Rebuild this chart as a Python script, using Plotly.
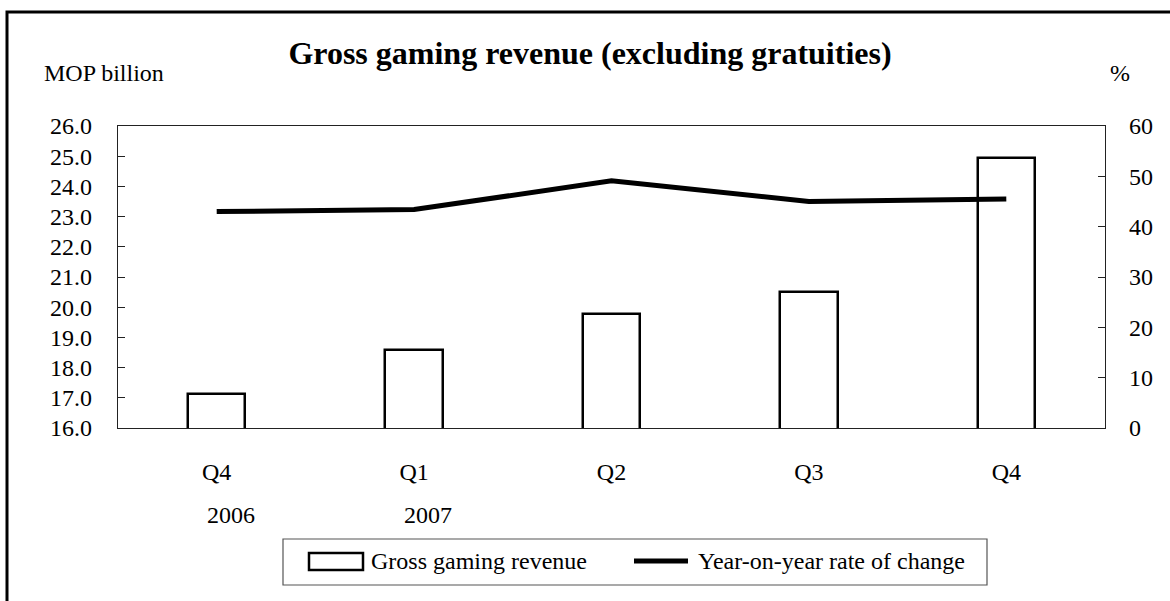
import plotly.graph_objects as go

# Quarterly data
quarters = ["Q4", "Q1", "Q2", "Q3", "Q4"]
years = ["2006", "2007"]
revenue = [17.13, 18.58, 19.76, 20.52, 24.93]      # MOP billion
yoy_change = [43.0, 43.4, 49.1, 45.0, 45.5]         # %
left_ticks = [16.0, 17.0, 18.0, 19.0, 20.0, 21.0, 22.0, 23.0, 24.0, 25.0, 26.0]
right_ticks = [0, 10, 20, 30, 40, 50, 60]

W, H = 1170, 601
ML, MR, MT, MB = 118, 65, 126, 173
PW, PH = W - ML - MR, H - MT - MB
FONT = "Liberation Serif, Times New Roman, serif"


def px(x):
    return (x - ML) / PW


def py(y):
    return (H - MB - y) / PH


xpos = list(range(len(quarters)))

fig = go.Figure()
fig.add_trace(go.Bar(
    x=xpos, y=revenue, name="Gross gaming revenue",
    marker=dict(color="white", line=dict(color="black", width=2.5)),
    width=0.29, showlegend=False,
))
fig.add_trace(go.Scatter(
    x=xpos, y=yoy_change, name="Year-on-year rate of change", yaxis="y2",
    mode="lines", line=dict(color="black", width=5), showlegend=False,
))

axis_line = dict(showline=True, linecolor="#222", linewidth=1.2, showgrid=False, zeroline=False)
fig.update_layout(
    width=W, height=H,
    margin=dict(l=ML, r=MR, t=MT, b=MB),
    paper_bgcolor="white", plot_bgcolor="white",
    font=dict(family=FONT, size=24, color="black"),
    title=dict(text="<b>Gross gaming revenue (excluding gratuities)</b>",
               x=590 / W, xref="container", xanchor="center",
               y=1 - 53 / H, yref="container", yanchor="middle",
               font=dict(family=FONT, size=32, color="black")),
    xaxis=dict(range=[-0.5, len(quarters) - 0.5], tickvals=xpos, ticktext=quarters,
               ticks="", ticklabelstandoff=22, mirror=True, **axis_line),
    yaxis=dict(range=[left_ticks[0], left_ticks[-1]], tickvals=left_ticks,
               tickformat=".1f", ticks="inside", ticklen=7, tickcolor="#222",
               ticklabelstandoff=20, **axis_line),
    yaxis2=dict(range=[right_ticks[0], right_ticks[-1]], tickvals=right_ticks,
                overlaying="y", side="right", ticks="inside", ticklen=7,
                tickcolor="#222", ticklabelstandoff=18, **axis_line),
    bargap=0,
)

annotations = [
    dict(text="MOP billion", x=px(104), y=py(73), xanchor="center", yanchor="middle"),
    dict(text="%", x=px(1120), y=py(73), xanchor="center", yanchor="middle"),
]
# Year labels under the first quarter of each year
for i, yr in enumerate(years):
    annotations.append(dict(text=yr, x=xpos[i], xref="x", xshift=14,
                            y=py(515), xanchor="center", yanchor="middle"))
# Legend
annotations += [
    dict(text="Gross gaming revenue", x=px(369), y=py(561), xanchor="left", yanchor="middle"),
    dict(text="Year-on-year rate of change", x=px(696), y=py(561), xanchor="left", yanchor="middle"),
]
for a in annotations:
    a.setdefault("xref", "paper")
    a["yref"] = "paper"
    a["showarrow"] = False
    a["font"] = dict(family=FONT, size=24, color="black")
fig.update_layout(annotations=annotations)

fig.update_layout(shapes=[
    # outer frame
    dict(type="rect", xref="paper", yref="paper", x0=px(7), x1=px(1185), y0=py(620), y1=py(12),
         line=dict(color="black", width=3), fillcolor="rgba(0,0,0,0)", layer="below"),
    # legend box
    dict(type="rect", xref="paper", yref="paper", x0=px(283), x1=px(987), y0=py(585), y1=py(539),
         line=dict(color="#555", width=1.2), fillcolor="white"),
    # legend bar sample
    dict(type="rect", xref="paper", yref="paper", x0=px(309), x1=px(363), y0=py(570), y1=py(553),
         line=dict(color="black", width=2.5), fillcolor="white"),
    # legend line sample
    dict(type="line", xref="paper", yref="paper", x0=px(634), x1=px(688), y0=py(561), y1=py(561),
         line=dict(color="black", width=5)),
])

fig.write_html("out.html")
